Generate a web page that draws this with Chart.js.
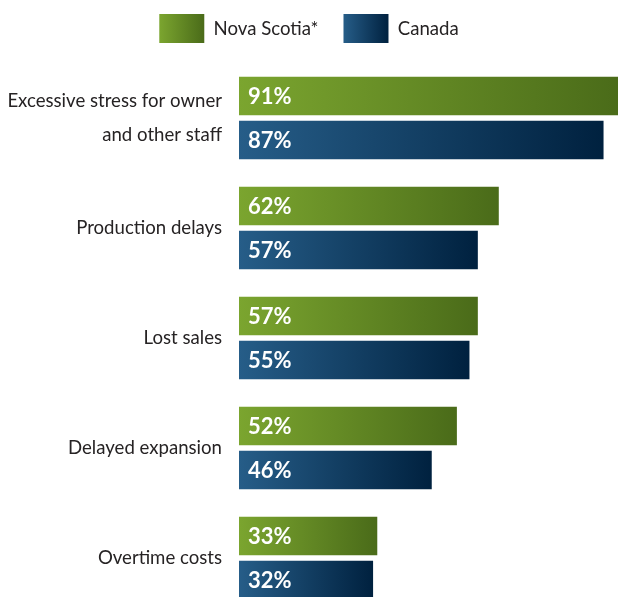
<!DOCTYPE html>
<html>
<head>
<meta charset="utf-8">
<script src="https://cdn.jsdelivr.net/npm/chart.js@4/dist/chart.umd.min.js"></script>
<style>
	html, body { margin: 0; padding: 0; background: #fff; overflow: hidden; }
	#wrap { width: 618px; height: 613px; }
</style>
</head>
<body>
<div id="wrap"><canvas id="myChartImpact"></canvas></div>
<script>
var categories = [
	['Excessive stress for owner', 'and other staff'],
	'Production delays',
	'Lost sales',
	'Delayed expansion',
	'Overtime costs'
];
var seriesNames = ['Nova Scotia*', 'Canada'];
var novaScotia = [91, 62, 57, 52, 33];
var canada = [87, 57, 55, 46, 32];

// left/right colour of each series gradient
var shades = [
	['#7ba52f', '#4a6b19'],
	['#265d88', '#00213f']
];
var textColor = '#262324';
var fontFamily = 'Lato, "Open Sans", sans-serif';

var impact = {
	startUp: function () {
		impact.chartImpact();
	},  // end - startUp

	gradient: function (ctx, x0, x1, colors) {
		var g = ctx.createLinearGradient(x0, 0, x1, 0);
		g.addColorStop(0, colors[0]);
		g.addColorStop(1, colors[1]);
		return g;
	}, // end - gradient

	barGradient: function (context) {
		var chart = context.chart;
		var colors = shades[context.datasetIndex];
		if ( !chart.chartArea || context.type !== 'data' ) {
			return colors[0];
		}
		var xScale = chart.scales.x;
		return impact.gradient(chart.ctx, xScale.getPixelForValue(0), xScale.getPixelForValue(context.raw), colors);
	}, // end - barGradient

	chartImpact: function () {
		// extra room between legend and bars, and gradient legend boxes
		var legendStyle = {
			id: 'legendStyle',
			beforeInit: function (chart) {
				var fit = chart.legend.fit;
				chart.legend.fit = function () {
					fit.bind(chart.legend)();
					this.height += 10;
				};
			},
			beforeDraw: function (chart) {
				var legend = chart.legend;
				var boxWidth = legend.options.labels.boxWidth;
				legend.legendItems.forEach(function (item, i) {
					var left = legend.legendHitBoxes[i].left;
					item.fillStyle = impact.gradient(chart.ctx, left, left + boxWidth, shades[item.datasetIndex]);
					item.lineWidth = 0;
					item.strokeStyle = 'rgba(0,0,0,0)';
				});
			}
		};

		// white percentage written at the start of each bar
		var valueLabels = {
			id: 'valueLabels',
			afterDatasetsDraw: function (chart) {
				var ctx = chart.ctx;
				ctx.save();
				ctx.font = 'bold 22px ' + fontFamily;
				ctx.fillStyle = '#ffffff';
				ctx.textBaseline = 'middle';
				ctx.textAlign = 'left';
				chart.data.datasets.forEach(function (ds, i) {
					chart.getDatasetMeta(i).data.forEach(function (bar, j) {
						ctx.fillText(ds.data[j] + '%', bar.base + 9, bar.y + 1);
					});
				});
				ctx.restore();
			}
		};

		return new Chart('myChartImpact', {
			type: 'bar',
			data: {
				labels: categories,
				datasets: [{
					label: seriesNames[0],
					data: novaScotia,
					backgroundColor: impact.barGradient,
					categoryPercentage: 0.8,
					barPercentage: 0.87
				}, {
					label: seriesNames[1],
					data: canada,
					backgroundColor: impact.barGradient,
					categoryPercentage: 0.8,
					barPercentage: 0.87
				}]
			},
			options: {
				indexAxis: 'y',
				responsive: true,
				maintainAspectRatio: false,
				animation: false,
				layout: {
					padding: { top: -11, bottom: 0, left: 0, right: 0 }
				},
				scales: {
					x: {
						display: false,
						min: 0,
						max: 90.45
					},
					y: {
						grid: { display: false, drawTicks: false },
						border: { display: false },
						ticks: {
							color: textColor,
							padding: 17,
							font: { family: fontFamily, size: 18.6, lineHeight: 1.83 }
						},
						afterFit: function (scale) {
							scale.width = 239;
							scale.paddingTop = 0;
							scale.paddingBottom = 0;
						}
					}
				},
				plugins: {
					legend: {
						position: 'top',
						labels: {
							boxWidth: 45,
							boxHeight: 29,
							padding: 25,
							color: textColor,
							font: { family: fontFamily, size: 18.6 }
						}
					},
					tooltip: { enabled: false }
				}
			},
			plugins: [legendStyle, valueLabels]
		});
	} // end - chartImpact
};

impact.startUp();
</script>
</body>
</html>
